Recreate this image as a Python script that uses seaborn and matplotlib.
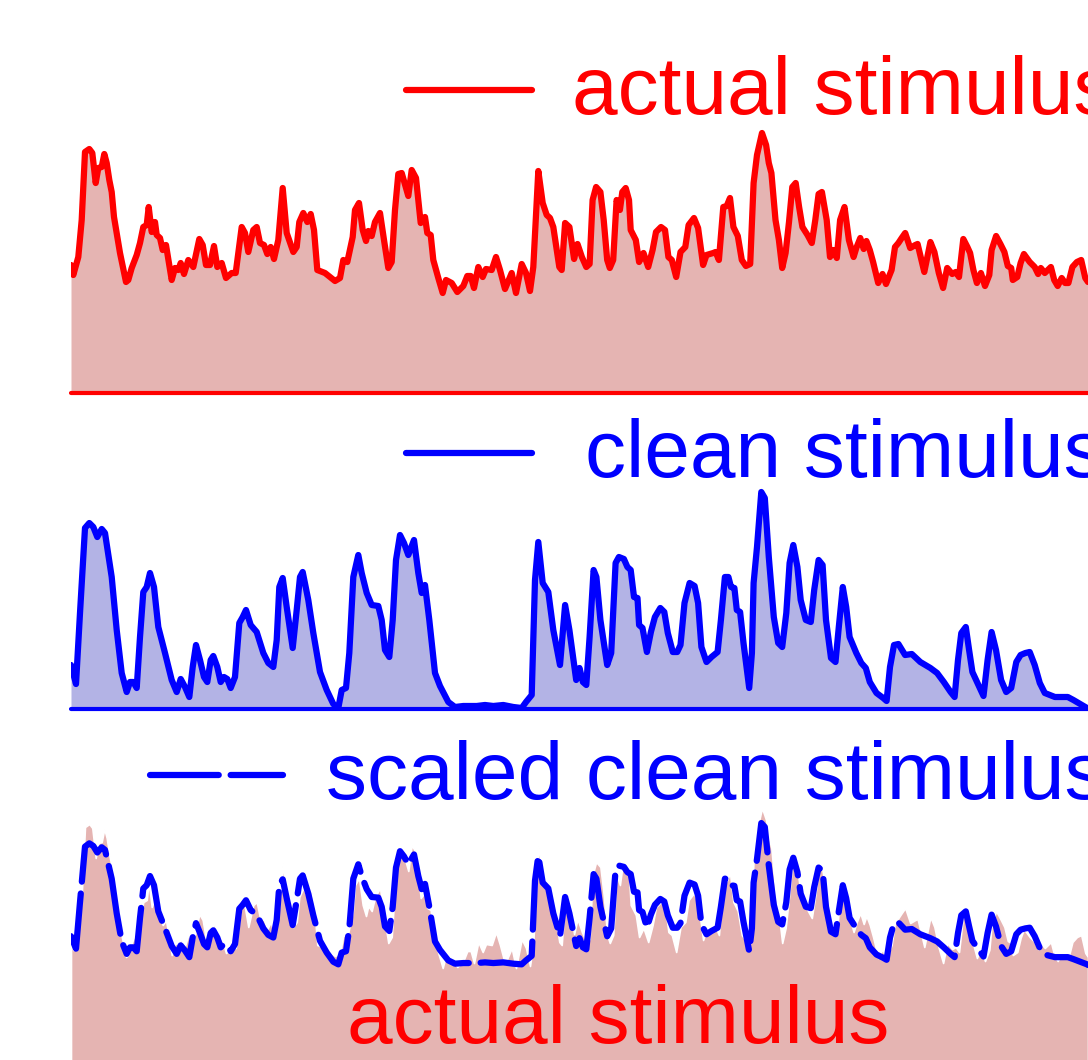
import matplotlib
matplotlib.use("Agg")
import matplotlib.pyplot as plt
import seaborn as sns

# ---------------- data (time in samples, amplitude in arbitrary units) ----------------
actual_t = [0, 2.3, 7.3, 10.7, 14, 18.3, 21.3, 24.7, 27.3, 30.7,
            33.3, 35.7, 38.3, 40.7, 43, 49, 55, 57.3, 60.7, 65.7,
            69, 72.3, 75.7, 77.7, 80.7, 84, 85.7, 89, 91.7, 95,
            100.7, 104, 107.3, 109.7, 113, 117.3, 122.3, 128.3, 131.7, 135,
            139, 143, 146.3, 150.7, 155, 160.7, 164.7, 170.7, 174, 177.3,
            182.3, 185.7, 189, 193, 196.3, 199.7, 203, 207.3, 211.7, 215.7,
            222.3, 225.7, 228.3, 232.3, 236.3, 239.7, 243, 246.3, 254, 259,
            264, 269, 272.3, 276.3, 281.7, 284, 288, 291.7, 295, 297.3,
            300.7, 304, 309, 313, 317.3, 320.7, 324, 327.3, 330.7, 337.3,
            340.7, 345, 349.7, 354, 356.3, 359.7, 362.3, 367.3, 371.7, 375,
            380.7, 386.3, 392.3, 396.3, 399.7, 403, 407.3, 411.7, 415, 420.7,
            425, 429, 434, 440.7, 445, 450.7, 455, 459, 462.3, 467.3,
            471.7, 475.7, 479, 482.3, 488.3, 490.7, 494.1, 498.4, 503.1, 506.5,
            510.9, 515.3, 518.6, 521.6, 525.1, 529.4, 532.7, 536.2, 538.8, 542.2,
            545.6, 548.9, 551.3, 554.7, 558, 559.7, 564.8, 568.1, 572.5, 577.2,
            581.6, 585, 590, 594, 597.4, 600.8, 605.2, 609.5, 614.3, 617.6,
            623, 627.1, 632.1, 635.5, 642.2, 644.6, 647.9, 652.3, 655.7, 659,
            662.4, 666.8, 670.8, 674.9, 679.2, 682.6, 686, 691, 695.1, 697.8,
            700.4, 704.5, 707.9, 711.2, 714.6, 718, 721.3, 724.7, 728.1, 731.4,
            736.5, 740.8, 744.3, 747.6, 750.9, 755.7, 759, 762.4, 765.8, 769.1,
            773.5, 777.9, 782.6, 785.3, 789.3, 792.7, 795.4, 798.8, 802.1, 807.2,
            811.5, 815, 820.6, 824, 827.4, 830.7, 834.2, 839.2, 844.3, 846.6,
            853.3, 859.4, 863.4, 867.8, 872.1, 876.2, 881.2, 884.7, 888, 892.3,
            896.4, 899.1, 902.4, 905.9, 909.9, 914, 918.3, 920.6, 925.1, 929.4,
            933.4, 936.8, 940.2, 941.8, 946.3, 949.6, 952.9, 958.7, 963.7, 967.1,
            969.8, 973.8, 979.9, 983.2, 986.7, 990.7, 994.1, 997.4, 1001.4, 1005.9,
            1010.2, 1014.3, 1017]
actual_v = [128, 118, 136, 173, 241, 244, 240, 210, 225, 226,
            239, 230, 213, 201, 176, 140, 111, 113, 125, 138,
            150, 166, 168, 186, 161, 171, 158, 155, 143, 148,
            113, 125, 123, 130, 119, 133, 126, 154, 148, 128,
            128, 147, 126, 130, 115, 120, 120, 166, 160, 141,
            163, 166, 150, 148, 139, 146, 134, 153, 205, 160,
            141, 146, 171, 180, 171, 179, 163, 123, 120, 116,
            112, 115, 133, 131, 156, 183, 190, 163, 152, 162,
            157, 171, 180, 153, 125, 131, 183, 219, 220, 197,
            223, 215, 170, 176, 160, 158, 133, 115, 100, 113,
            110, 101, 107, 117, 117, 105, 126, 116, 124, 123,
            136, 123, 104, 120, 100, 129, 120, 102, 126, 222,
            190, 178, 175, 166, 126, 123, 170, 166, 134, 149,
            136, 126, 129, 193, 206, 201, 173, 133, 125, 133,
            193, 183, 201, 205, 193, 163, 153, 131, 140, 126,
            143, 161, 166, 163, 136, 133, 116, 141, 146, 168,
            175, 165, 128, 138, 140, 141, 133, 186, 187, 195,
            166, 157, 133, 127, 129, 210, 238, 260, 248, 230,
            220, 173, 153, 125, 140, 171, 206, 210, 186, 166,
            158, 150, 173, 199, 201, 173, 136, 143, 135, 173,
            186, 153, 136, 145, 155, 144, 152, 143, 131, 110,
            119, 109, 123, 146, 150, 155, 160, 145, 148, 149,
            121, 151, 141, 120, 105, 125, 119, 121, 116, 154,
            146, 140, 123, 110, 120, 107, 118, 143, 157, 149,
            141, 127, 125, 113, 116, 130, 139, 131, 126, 119,
            125, 120, 126, 113, 107, 115, 110, 110, 126, 131,
            133, 115, 111]

clean_t = [0, 5, 9, 14, 18.3, 22.3, 26.3, 30.7, 34, 37.3,
           40.7, 45.7, 50.7, 55.7, 59, 62.3, 65.7, 69, 72.3, 75.7,
           79, 83, 87.3, 94, 100.7, 105.7, 109.7, 114, 118.3, 121.7,
           125, 129, 133, 136.3, 139.7, 142.3, 146.3, 149.7, 153, 156.3,
           159.7, 164, 168.3, 171.7, 175, 179.7, 185.7, 192.3, 197.3, 202.3,
           205.7, 208.3, 211.7, 215.7, 221.7, 225.7, 229, 231.7, 237.3, 242.3,
           249, 255.7, 262.3, 267.3, 270.7, 275, 278.3, 282.3, 287.3, 290.7,
           295.7, 300.7, 307.3, 310.7, 314, 318.3, 321.7, 325, 329, 333,
           337.3, 343, 347.3, 350.7, 354, 358.3, 364, 369, 377.3, 384,
           392.3, 405.7, 414, 422.3, 432.3, 442.3, 450.7, 455, 460.7, 464,
           467.3, 471.7, 477.3, 482.3, 489, 494.1, 498.4, 505.2, 508.5, 511.9,
           515.3, 518.6, 522.6, 525.4, 529.4, 536.2, 540.2, 544.6, 547.9, 552.9,
           556.4, 559.7, 563, 566.5, 568.1, 571.5, 575.9, 579.9, 583.9, 589.3,
           593.3, 596.8, 601.8, 606.2, 609.5, 613.5, 618.6, 623.6, 627.1, 630.4,
           635.5, 640.5, 646.6, 649.9, 653.9, 657.4, 660, 663.4, 665.8, 669.1,
           672.5, 678.2, 680.9, 682.6, 686, 690.3, 693.8, 697.8, 702.8, 707.2,
           711.2, 715.3, 718.6, 722.3, 726.4, 729.7, 734.8, 739.8, 743.2, 747.6,
           751.6, 755, 760, 764.5, 767.8, 771.8, 775.2, 778.6, 785.3, 790.3,
           794.8, 798.8, 805.5, 812.2, 815.6, 819, 823, 827.4, 834.1, 840.8,
           849.3, 859.4, 866.1, 872.8, 879.6, 883.6, 887, 890.3, 894.8, 898.1,
           901.4, 906.5, 912.5, 916.6, 920.6, 925, 930.1, 935.2, 940.2, 945.3,
           949.6, 954.4, 958.7, 963.7, 968.8, 973.8, 983.9, 996.8, 1002.4, 1016,
           1017]
clean_v = [44, 25, 96, 181, 186, 182, 172, 180, 176, 154,
           132, 79, 36, 17, 27, 27, 21, 72, 117, 122,
           136, 122, 82, 56, 29, 17, 30, 22, 12, 42,
           64, 49, 32, 27, 49, 53, 42, 27, 32, 30,
           21, 32, 86, 92, 99, 84, 77, 56, 46, 42,
           69, 122, 131, 102, 61, 99, 132, 137, 109, 76,
           37, 19, 5, 1, 19, 21, 56, 132, 154, 136,
           116, 104, 103, 89, 59, 52, 89, 149, 174, 166,
           154, 169, 136, 116, 124, 89, 36, 23, 7, 2,
           3, 3, 4, 3, 4, 2, 1, 7, 14, 129,
           167, 126, 117, 79, 44, 104, 79, 29, 41, 27,
           24, 72, 139, 132, 89, 44, 56, 146, 152, 150,
           142, 139, 112, 111, 84, 81, 57, 77, 92, 101,
           97, 76, 57, 57, 64, 106, 126, 123, 106, 62,
           47, 52, 57, 89, 132, 132, 122, 121, 99, 97,
           66, 21, 56, 126, 162, 217, 211, 152, 92, 66,
           62, 96, 146, 164, 142, 109, 89, 87, 119, 149,
           144, 89, 51, 47, 82, 122, 102, 72, 56, 46,
           41, 27, 16, 11, 8, 42, 64, 65, 54, 55,
           47, 41, 36, 27, 17, 12, 49, 76, 82, 59,
           37, 26, 13, 49, 77, 59, 29, 17, 21, 47,
           54, 56, 57, 44, 26, 16, 12, 12, 9, 1,
           0]

# linear fit of the clean stimulus onto the actual stimulus
scale_gain = 0.654
scale_offset = 103
scaled_clean_v = [scale_offset + scale_gain * v for v in clean_v]

labels = ["actual stimulus", "clean stimulus", "scaled clean stimulus"]

# ---------------- styling ----------------
sns.set_theme(style="white")
plt.rcParams["font.family"] = ["Liberation Sans", "DejaVu Sans"]

RED, BLUE = "#ff0000", "#0000ff"
RED_FILL, BLUE_FILL = "#e5b4b2", "#b3b3e5"
FS = 59
LW = 4.5

W, H = 1088, 1060
fig = plt.figure(figsize=(W / 100, H / 100), dpi=100)


def px_axes(left, top, right, bottom):
    return fig.add_axes([left / W, 1 - bottom / H, (right - left) / W, (bottom - top) / H])


def add_legend(ax, line, label, color, x0, yc, hlen, pad):
    ax.legend([line], [label], loc="center left",
              bbox_to_anchor=(x0 / W, 1 - yc / H), bbox_transform=fig.transFigure,
              frameon=False, fontsize=FS, handlelength=hlen, handleheight=0.32,
              handletextpad=pad, borderpad=0, borderaxespad=0, labelcolor=color)


ax1 = px_axes(71, 0, 1088, 393)
ax2 = px_axes(71, 400, 1088, 709)
ax3 = px_axes(71, 720, 1088, 1068)

# panel 1: actual stimulus
ax1.fill_between(actual_t, 0, actual_v, color=RED_FILL, lw=0)
sns.lineplot(x=actual_t, y=actual_v, ax=ax1, color=RED, lw=LW, solid_joinstyle="round")
l1 = ax1.lines[-1]
ax1.axhline(0, color=RED, lw=3, clip_on=False)
ax1.set_ylim(0, 393)
add_legend(ax1, l1, labels[0], RED, 406, 93, 1.54, 0.48)

# panel 2: clean stimulus
ax2.fill_between(clean_t, 0, clean_v, color=BLUE_FILL, lw=0)
sns.lineplot(x=clean_t, y=clean_v, ax=ax2, color=BLUE, lw=LW, solid_joinstyle="round")
l2 = ax2.lines[-1]
ax2.axhline(0, color=BLUE, lw=3, clip_on=False)
ax2.set_ylim(0, 309)
add_legend(ax2, l2, labels[1], BLUE, 406, 456, 1.54, 0.64)

# panel 3: actual stimulus with scaled clean stimulus on top
ax3.fill_between(actual_t, 0, actual_v, facecolor=RED_FILL, edgecolor="white", lw=1.2)
sns.lineplot(x=clean_t, y=scaled_clean_v, ax=ax3, color=BLUE, lw=LW,
             linestyle=(0, (11, 1.9)), dash_capstyle="round", dash_joinstyle="round")
l3 = ax3.lines[-1]
ax3.set_ylim(0, 348)
add_legend(ax3, l3, labels[2], BLUE, 150, 778, 1.62, 0.53)

for ax in (ax1, ax2, ax3):
    ax.set_xlim(0, 1017)
    ax.set_axis_off()

fig.text(618 / W, 1 - 1043 / H, labels[0], color=RED, fontsize=FS,
         ha="center", va="baseline")

fig.savefig("out.png", dpi=100)
